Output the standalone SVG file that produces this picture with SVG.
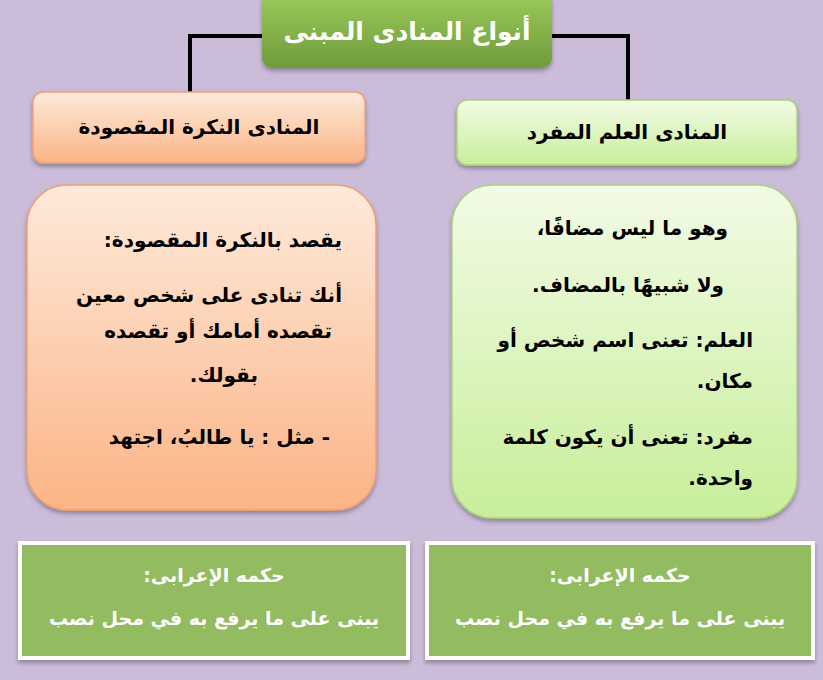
<svg xmlns="http://www.w3.org/2000/svg" width="823" height="680" viewBox="0 0 823 680">
<defs>
<linearGradient id="gT" x1="0" y1="0" x2="0" y2="1"><stop offset="0" stop-color="#9ccb5c"/><stop offset="1" stop-color="#6f9b3b"/></linearGradient>
<linearGradient id="gO" x1="0" y1="0" x2="0" y2="1"><stop offset="0" stop-color="#feeadb"/><stop offset="1" stop-color="#fbb486"/></linearGradient>
<linearGradient id="gG" x1="0" y1="0" x2="0" y2="1"><stop offset="0" stop-color="#f2fbe6"/><stop offset="1" stop-color="#c8ee9a"/></linearGradient>
<filter id="sh" x="-10%" y="-10%" width="120%" height="130%"><feDropShadow dx="0" dy="3" stdDeviation="2" flood-color="#000" flood-opacity="0.3"/></filter>
</defs>
<style>
text{font-family:"DejaVu Sans","Noto Sans",sans-serif;font-weight:bold;direction:rtl}
.b{fill:#000;font-size:20px}
.w{fill:#fff;font-size:19px}
.c{stroke:#000;stroke-width:4;fill:none}
.or{stroke:#f0a070;stroke-width:1.5}
.gr{stroke:#a9d47a;stroke-width:1.5}
</style>
<rect width="823" height="680" fill="#cbbcd9"/>
<g id="connectors">
<path class="c" d="M264 36 H190 V94"/>
<path class="c" d="M550 36 H628 V101"/>
</g>
<g id="title">
<rect x="262" y="-8" width="290" height="76" rx="10" fill="url(#gT)" filter="url(#sh)"/>
<text x="407" y="40" text-anchor="middle" class="w" style="font-size:25px;direction:ltr">أنواع المنادى المبنى</text>
</g>
<g id="nakira">
<rect x="33" y="92" width="332" height="71" rx="10" fill="url(#gO)" class="or" filter="url(#sh)"/>
<text x="199" y="134" text-anchor="middle" class="b" style="direction:ltr">المنادى النكرة المقصودة</text>
</g>
<g id="alam">
<rect x="457" y="100" width="340" height="65" rx="10" fill="url(#gG)" class="gr" filter="url(#sh)"/>
<text x="627" y="139" text-anchor="middle" class="b" style="direction:ltr">المنادى العلم المفرد</text>
</g>
<g id="nakira-desc">
<rect x="27" y="185" width="349" height="325" rx="40" fill="url(#gO)" class="or" filter="url(#sh)"/>
<text x="342" y="247" text-anchor="start" class="b">يقصد بالنكرة المقصودة:</text>
<text x="342" y="302" text-anchor="start" class="b">أنك تنادى على شخص معين</text>
<text x="332" y="338" text-anchor="start" class="b">تقصده أمامك أو تقصده</text>
<text x="258" y="382" text-anchor="start" class="b">بقولك.</text>
<text x="330" y="444" text-anchor="start" class="b">- مثل : يا طالبُ، اجتهد</text>
</g>
<g id="alam-desc">
<rect x="452" y="185" width="345" height="333" rx="40" fill="url(#gG)" class="gr" filter="url(#sh)"/>
<text x="728" y="235" text-anchor="start" class="b">وهو ما ليس مضافًا،</text>
<text x="724" y="292" text-anchor="start" class="b">ولا شبيهًا بالمضاف.</text>
<text x="753" y="347" text-anchor="start" class="b">العلم: تعنى اسم شخص أو</text>
<text x="753" y="388" text-anchor="start" class="b">مكان.</text>
<text x="753" y="444" text-anchor="start" class="b">مفرد: تعنى أن يكون كلمة</text>
<text x="753" y="485" text-anchor="start" class="b">واحدة.</text>
</g>
<g id="hukm-left">
<rect x="20" y="543" width="388" height="115" fill="#93bb5e" stroke="#fff" stroke-width="4" filter="url(#sh)"/>
<text x="214" y="582" text-anchor="middle" class="w">حكمه الإعرابى:</text>
<text x="214" y="625" text-anchor="middle" class="w">يبنى على ما يرفع به في محل نصب</text>
</g>
<g id="hukm-right">
<rect x="427" y="543" width="386" height="115" fill="#93bb5e" stroke="#fff" stroke-width="4" filter="url(#sh)"/>
<text x="620" y="582" text-anchor="middle" class="w">حكمه الإعرابى:</text>
<text x="620" y="625" text-anchor="middle" class="w">يبنى على ما يرفع به في محل نصب</text>
</g>
</svg>
